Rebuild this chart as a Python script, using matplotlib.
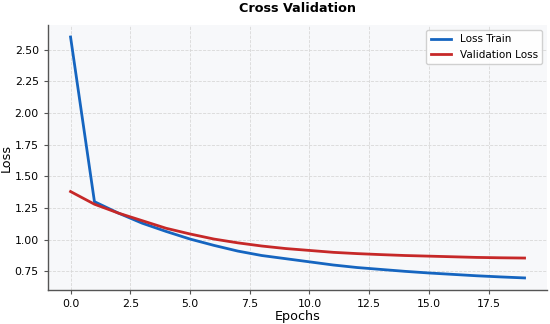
import matplotlib
matplotlib.use("Agg")
import matplotlib.pyplot as plt

# loss values
epochs = list(range(20))
train_loss = [2.60, 1.30, 1.21, 1.13, 1.065, 1.005, 0.955, 0.91, 0.875, 0.85,
              0.825, 0.80, 0.78, 0.765, 0.75, 0.737, 0.726, 0.715, 0.706, 0.698]
val_loss = [1.38, 1.28, 1.21, 1.15, 1.09, 1.045, 1.005, 0.975, 0.95, 0.93,
            0.915, 0.90, 0.89, 0.882, 0.875, 0.87, 0.865, 0.86, 0.857, 0.855]

fig, ax = plt.subplots(figsize=(5.5, 3.24), dpi=100)
ax.set_facecolor("#f7f8fa")

ax.plot(epochs, train_loss, color="#1565c0", lw=2.0, label="Loss Train")
ax.plot(epochs, val_loss, color="#c62828", lw=2.0, label="Validation Loss")

ax.set_title("Cross Validation", fontweight="bold", fontsize=9.2, pad=9)
ax.set_xlabel("Epochs", fontsize=9.2, labelpad=1)
ax.set_ylabel("Loss", fontsize=9.2, labelpad=1)
ax.tick_params(labelsize=7.8, length=3, color="#555555")
ax.grid(True, linestyle="--", color="#d8d8d8", linewidth=0.6)
ax.spines["top"].set_visible(False)
ax.spines["right"].set_visible(False)
for s in ("left", "bottom"):
    ax.spines[s].set_color("#555555")
    ax.spines[s].set_linewidth(1.0)
ax.legend(fontsize=7.5, loc="upper right", framealpha=0.9)

fig.subplots_adjust(left=0.087, right=0.995, bottom=0.105, top=0.923)
plt.savefig("out.png")
